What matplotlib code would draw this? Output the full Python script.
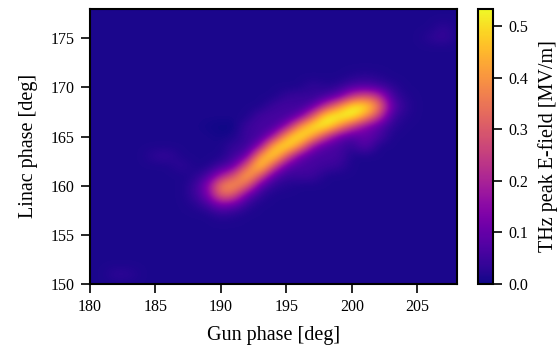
import numpy as np
import matplotlib
matplotlib.use("Agg")
import matplotlib.pyplot as plt

plt.rcParams["font.family"] = ["Liberation Serif", "DejaVu Serif"]

# Scan grid (deg)
gun_phase = np.arange(180, 209)
linac_phase = np.arange(150, 179)
background = 0.012

# Readings along the bright ridge: gun phase -> (lowest linac phase, field values going up) [MV/m]
ridge_columns = {
    188: (158, [0.02, 0.04, 0.04, 0.02]),
    189: (158, [0.05, 0.12, 0.14, 0.06]),
    190: (157, [0.03, 0.12, 0.33, 0.38, 0.18, 0.05]),
    191: (157, [0.02, 0.09, 0.29, 0.41, 0.29, 0.09, 0.05]),
    192: (158, [0.03, 0.09, 0.32, 0.47, 0.32, 0.09, 0.04, 0.05, 0.05]),
    193: (159, [0.03, 0.08, 0.30, 0.53, 0.43, 0.14, 0.05, 0.06, 0.06]),
    194: (160, [0.03, 0.08, 0.29, 0.53, 0.47, 0.16, 0.05, 0.06, 0.05]),
    195: (160, [0.02, 0.04, 0.09, 0.31, 0.54, 0.44, 0.15, 0.05, 0.06, 0.04]),
    196: (161, [0.05, 0.06, 0.11, 0.40, 0.55, 0.40, 0.11, 0.04, 0.05]),
    197: (161, [0.05, 0.06, 0.06, 0.15, 0.44, 0.54, 0.31, 0.09, 0.03, 0.04]),
    198: (162, [0.05, 0.06, 0.07, 0.25, 0.54, 0.54, 0.25, 0.06, 0.02]),
    199: (162, [0.04, 0.06, 0.06, 0.11, 0.40, 0.55, 0.40, 0.11, 0.03]),
    200: (164, [0.03, 0.07, 0.25, 0.54, 0.54, 0.25, 0.07, 0.02]),
    201: (164, [0.09, 0.10, 0.14, 0.41, 0.53, 0.31, 0.08, 0.03]),
    202: (165, [0.07, 0.08, 0.25, 0.38, 0.25, 0.06, 0.02]),
    203: (166, [0.03, 0.05, 0.10, 0.06, 0.03]),
    204: (167, [0.02, 0.03, 0.02]),
}

# Isolated readings away from the ridge: (gun, linac, field)
other_cells = [
    (190, 166, 0.0), (191, 166, 0.0), (190, 165, 0.005), (189, 166, 0.005),
    (191, 164, 0.04), (197, 170, 0.04),
    (185, 163, 0.035), (186, 163, 0.04), (187, 162, 0.035),
    (206, 175, 0.03), (207, 175, 0.045), (207, 176, 0.035),
    (182, 151, 0.035), (183, 151, 0.03),
]

field = np.full((len(linac_phase), len(gun_phase)), background)
for g, (l0, vals) in ridge_columns.items():
    i0 = l0 - linac_phase[0]
    field[i0:i0 + len(vals), g - gun_phase[0]] = vals
for g, l, v in other_cells:
    field[l - linac_phase[0], g - gun_phase[0]] = v

fig = plt.figure(figsize=(5.6, 3.45), dpi=100)
ax = fig.add_axes([0.1607, 0.177, 0.6545, 0.7975])
cax = fig.add_axes([0.8536, 0.177, 0.026, 0.7975])

im = ax.imshow(field, origin="lower", cmap="plasma", vmin=0, vmax=0.534,
               extent=(gun_phase[0] - 0.5, gun_phase[-1] + 0.5, linac_phase[0] - 0.5, linac_phase[-1] + 0.5),
               interpolation="bicubic", aspect="auto")
ax.set_xlim(180, 208)
ax.set_ylim(150, 178)
ax.set_xticks([180, 185, 190, 195, 200, 205])
ax.set_yticks([150, 155, 160, 165, 170, 175])
ax.tick_params(direction="out", length=6.5, width=1.2, labelsize=11.5, pad=4.5)
for s in ax.spines.values():
    s.set_linewidth(1.5)
ax.set_xlabel("Gun phase [deg]", fontsize=14.5, labelpad=8)
ax.set_ylabel("Linac phase [deg]", fontsize=14.5, labelpad=9)

cb = fig.colorbar(im, cax=cax, ticks=[0.0, 0.1, 0.2, 0.3, 0.4, 0.5])
cb.ax.tick_params(direction="out", length=6.5, width=1.2, labelsize=11.5, pad=5)
cb.outline.set_linewidth(1.5)
cb.set_label("THz peak E-field [MV/m]", fontsize=14.5, labelpad=7)

fig.savefig("out.png", dpi=100)
